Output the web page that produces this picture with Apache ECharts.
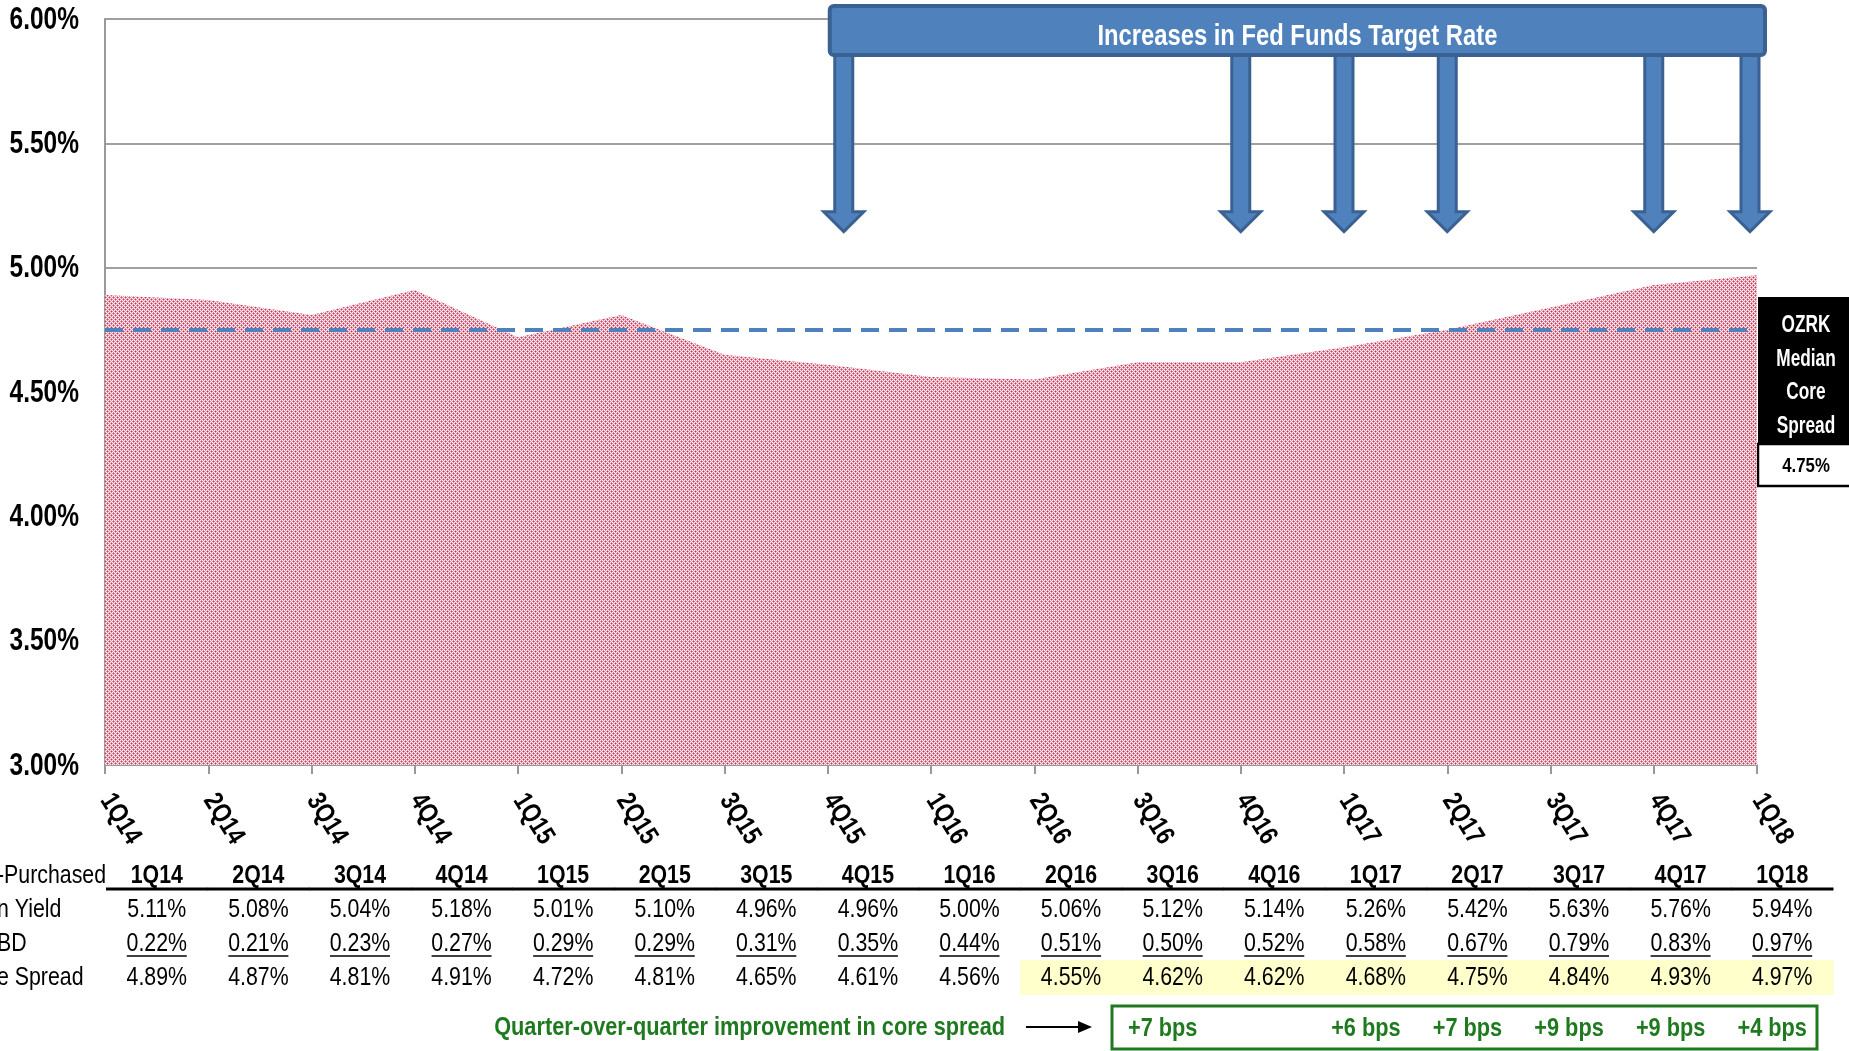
<!DOCTYPE html>
<html>
<head>
<meta charset="utf-8">
<script src="https://cdn.jsdelivr.net/npm/echarts@6/dist/echarts.min.js"></script>
<style>
html,body{margin:0;padding:0;background:#fff;}
#main{width:1849px;height:1051px;}
</style>
</head>
<body>
<div id="main"></div>
<script>
// ---------------- data ----------------
const QUARTERS = ['1Q14','2Q14','3Q14','4Q14','1Q15','2Q15','3Q15','4Q15','1Q16','2Q16','3Q16','4Q16','1Q17','2Q17','3Q17','4Q17','1Q18'];
const CORE_SPREAD = [4.89,4.87,4.81,4.91,4.72,4.81,4.65,4.61,4.56,4.55,4.62,4.62,4.68,4.75,4.84,4.93,4.97];
const LOAN_YIELD  = [5.11,5.08,5.04,5.18,5.01,5.10,4.96,4.96,5.00,5.06,5.12,5.14,5.26,5.42,5.63,5.76,5.94];
const COF_IBD     = [0.22,0.21,0.23,0.27,0.29,0.29,0.31,0.35,0.44,0.51,0.50,0.52,0.58,0.67,0.79,0.83,0.97];
const BPS_IMPROVEMENT = [null,null,null,null,null,null,null,null,null,null,7,null,6,7,9,9,4];
const MEDIAN_SPREAD = 4.75;
const Y_TICKS = [3.0, 3.5, 4.0, 4.5, 5.0, 5.5, 6.0];
const RATE_HIKES = ['4Q15','4Q16','1Q17','2Q17','4Q17','1Q18'];
const HIGHLIGHT_FROM = '2Q16';
const ROW_LABELS = ['-Purchased','n Yield','BD','e Spread'];
const TABLE_ROWS = ['header','yield','cof','spread'];
const BANNER_TEXT = 'Increases in Fed Funds Target Rate';
const MEDIAN_BOX_LINES = ['OZRK','Median','Core','Spread'];
const QOQ_TEXT = 'Quarter-over-quarter improvement in core spread';

// ---------------- styling helpers ----------------
const FONT = "'Liberation Sans',Arial,sans-serif";
const NARROW_SCALE = 0.82;           // emulate Arial Narrow
const BLUE = '#4f81bd', BLUE_DARK = '#3a6192';
const GREEN = '#1f7a1f';
const Y_MIN = Y_TICKS[0], Y_MAX = Y_TICKS[Y_TICKS.length - 1], Y_STEP = Y_TICKS[1] - Y_TICKS[0];

function ntext(x, y, text, font, fill, align, vAlign, rotation, sx){
  return { type: 'text', x: x, y: y, rotation: rotation || 0, scaleX: sx || NARROW_SCALE,
    style: { x: 0, y: 0, text: text, font: font, fill: fill || '#000',
      textAlign: align || 'center', textVerticalAlign: vAlign || 'middle' } };
}

function makeDotPattern(){
  const c = document.createElement('canvas');
  c.width = 4; c.height = 4;
  const ctx = c.getContext('2d');
  const img = ctx.createImageData(4,4);
  const dark = [200,55,85], mid = [228,145,165], light = [251,238,241];
  const darkSet = ['1,1','3,3'];
  const midSet = ['0,1','2,1','1,0','1,2','2,3','0,3','3,2','3,0'];
  for (let y=0;y<4;y++) for (let x=0;x<4;x++){
    const k = x+','+y;
    const col = darkSet.includes(k) ? dark : (midSet.includes(k) ? mid : light);
    const o = (y*4+x)*4;
    img.data[o]=col[0]; img.data[o+1]=col[1]; img.data[o+2]=col[2]; img.data[o+3]=255;
  }
  ctx.putImageData(img,0,0);
  return c;
}

const chart = echarts.init(document.getElementById('main'));

const hikeIdx = RATE_HIKES.map(q => QUARTERS.indexOf(q));
const hlIdx = QUARTERS.indexOf(HIGHLIGHT_FROM);
function fmtPct(v){ return v.toFixed(2) + '%'; }

const tableData = [];
QUARTERS.forEach((q,i) => { for (let r=0;r<TABLE_ROWS.length;r++) tableData.push([i,r]); });
const bpsData = [];
BPS_IMPROVEMENT.forEach((v,i) => { if (v != null) bpsData.push([i, 3, v]); });

const option = {
  animation: false,
  backgroundColor: '#fff',
  grid: [
    { left: 105, right: 92, top: 19, bottom: 286 },
    { left: 106, right: 16, top: 859, height: 136 }
  ],
  xAxis: [
    {
      type: 'category', gridIndex: 0, data: QUARTERS, boundaryGap: false,
      axisLine: { show: true, lineStyle: { color: '#999', width: 2 } },
      axisTick: { show: true, length: 9, lineStyle: { color: '#999', width: 2 }, interval: 0 },
      axisLabel: { show: false },
      splitLine: { show: false }
    },
    { type: 'category', gridIndex: 1, data: QUARTERS, boundaryGap: true, show: false }
  ],
  yAxis: [
    {
      type: 'value', gridIndex: 0, min: Y_MIN, max: Y_MAX, interval: Y_STEP,
      axisLine: { show: true, lineStyle: { color: '#999', width: 2 } },
      axisTick: { show: false },
      axisLabel: { show: false },
      splitLine: { show: true, lineStyle: { color: '#a0a0a0', width: 2 } }
    },
    { type: 'category', gridIndex: 1, data: TABLE_ROWS, inverse: true, show: false }
  ],
  series: [
    {
      type: 'line', xAxisIndex: 0, yAxisIndex: 0, data: CORE_SPREAD,
      symbol: 'none', lineStyle: { width: 0, opacity: 0 },
      areaStyle: { origin: 'start', color: { image: makeDotPattern(), repeat: 'repeat' }, opacity: 1 },
      z: 2,
      markLine: {
        silent: true, symbol: ['none','none'], label: { show: false },
        lineStyle: { color: BLUE, type: [18, 10], width: 4 },
        data: [{ yAxis: MEDIAN_SPREAD }]
      }
    },
    {
      // y-axis tick labels (narrow font)
      type: 'custom', xAxisIndex: 0, yAxisIndex: 0, clip: false, z: 4,
      data: Y_TICKS.map(v => [0, v]),
      renderItem: function(params, api){
        const p = api.coord([0, api.value(1)]);
        return ntext(p[0] - 26, p[1] + 1, fmtPct(api.value(1)), 'bold 31px ' + FONT, '#000', 'right', 'middle', 0, 0.79);
      }
    },
    {
      // x-axis category labels (rotated, narrow font)
      type: 'custom', xAxisIndex: 0, yAxisIndex: 0, clip: false, z: 4,
      data: QUARTERS.map((q, i) => [i, Y_MIN]),
      renderItem: function(params, api){
        const i = api.value(0);
        const p = api.coord([i, Y_MIN]);
        return ntext(p[0] + 1, p[1] + 31, QUARTERS[i], 'bold 27px ' + FONT, '#000', 'left', 'middle', -58 * Math.PI / 180);
      }
    },
    {
      // rate-hike arrows
      type: 'custom', xAxisIndex: 0, yAxisIndex: 0, clip: false, z: 5,
      data: hikeIdx.map(i => [i, Y_MAX]),
      renderItem: function(params, api){
        const xt = api.coord([api.value(0), Y_MAX])[0];
        const top = api.coord([0, Y_MAX])[1];
        const bl = api.coord([hikeIdx[0], Y_MAX])[0] + 2;
        const br = api.coord([hikeIdx[hikeIdx.length-1], Y_MAX])[0] + 8;
        const x = Math.min(Math.max(xt, bl + 14), br - 15);
        const y0 = top + 34;
        const yh = api.coord([0, 5.225])[1];
        const yt = api.coord([0, 5.145])[1];
        const sw = 9, hw = 20;
        return {
          type: 'polygon',
          shape: { points: [[x-sw,y0],[x+sw,y0],[x+sw,yh],[x+hw,yh],[x,yt],[x-hw,yh],[x-sw,yh]] },
          style: { fill: BLUE, stroke: BLUE_DARK, lineWidth: 3, lineJoin: 'miter' }
        };
      }
    },
    {
      // banner
      type: 'custom', xAxisIndex: 0, yAxisIndex: 0, clip: false, z: 6,
      data: [[hikeIdx[0], Y_MAX]],
      renderItem: function(params, api){
        const top = api.coord([0, Y_MAX])[1];
        const bl = api.coord([hikeIdx[0], Y_MAX])[0] + 2;
        const br = api.coord([hikeIdx[hikeIdx.length-1], Y_MAX])[0] + 8;
        const y = top - 13, h = 49;
        return {
          type: 'group',
          children: [
            { type: 'rect', shape: { x: bl, y: y, width: br - bl, height: h, r: 4 },
              style: { fill: BLUE, stroke: BLUE_DARK, lineWidth: 4 } },
            ntext((bl+br)/2, y + h/2 + 6, BANNER_TEXT, 'bold 29px ' + FONT, '#fff', 'center', 'middle')
          ]
        };
      }
    },
    {
      // data table
      type: 'custom', xAxisIndex: 1, yAxisIndex: 1, clip: false, z: 3,
      data: tableData,
      renderItem: function(params, api){
        const i = api.value(0), r = api.value(1);
        const p = api.coord([i, r]);
        const sz = api.size([1, 1]);
        const w = sz[0], h = sz[1];
        const children = [];
        let txt, bold = false;
        if (r === 0) { txt = QUARTERS[i]; bold = true; }
        else if (r === 1) txt = fmtPct(LOAN_YIELD[i]);
        else if (r === 2) txt = fmtPct(COF_IBD[i]);
        else txt = fmtPct(CORE_SPREAD[i]);
        if (r === 3 && i >= hlIdx) {
          children.push({ type: 'rect', shape: { x: p[0]-w/2, y: p[1]-h/2-1, width: w+0.5, height: h+1 },
            style: { fill: '#ffffcc' } });
        }
        children.push(ntext(p[0], p[1], txt, (bold ? 'bold ' : '') + '26px ' + FONT, '#000', 'center', 'middle'));
        if (r === 0) {
          children.push({ type: 'line', shape: { x1: p[0]-w/2, y1: p[1]+13, x2: p[0]+w/2+0.5, y2: p[1]+13 },
            style: { stroke: '#000', lineWidth: 3 } });
        }
        if (r === 2) {
          children.push({ type: 'line', shape: { x1: p[0]-30, y1: p[1]+12, x2: p[0]+30, y2: p[1]+12 },
            style: { stroke: '#000', lineWidth: 1.5 } });
        }
        return { type: 'group', children: children };
      }
    },
    {
      // quarter-over-quarter improvements
      type: 'custom', xAxisIndex: 1, yAxisIndex: 1, clip: false, z: 3,
      data: bpsData,
      renderItem: function(params, api){
        const p = api.coord([api.value(0), api.value(1)]);
        return ntext(p[0]-10, p[1]+51, '+' + api.value(2) + ' bps', 'bold 26.5px ' + FONT, GREEN, 'center', 'middle');
      }
    }
  ],
  graphic: [
    ...ROW_LABELS.map((t, r) => ntext(-3, 876 + r*34, t, '26px ' + FONT, '#000', 'left', 'middle')),
    { type: 'rect', shape: { x: 1758, y: 297, width: 95, height: 147 }, style: { fill: '#000' } },
    ...MEDIAN_BOX_LINES.map((t, k) => ntext(1806, 326 + k*33.5, t, 'bold 23px ' + FONT, '#fff', 'center', 'middle', 0, 0.75)),
    { type: 'rect', shape: { x: 1758, y: 444, width: 95, height: 42 }, style: { fill: '#fff', stroke: '#000', lineWidth: 2.5 } },
    ntext(1806, 466, fmtPct(MEDIAN_SPREAD), 'bold 21px ' + FONT, '#000', 'center', 'middle', 0, 0.8),
    ntext(1005, 1028, QOQ_TEXT, 'bold 26.5px ' + FONT, GREEN, 'right', 'middle'),
    { type: 'line', shape: { x1: 1026, y1: 1027, x2: 1080, y2: 1027 }, style: { stroke: '#000', lineWidth: 2 } },
    { type: 'polygon', shape: { points: [[1078,1021],[1092,1027],[1078,1033]] }, style: { fill: '#000' } },
    { type: 'rect', shape: { x: 1112, y: 1006, width: 705, height: 43 }, style: { fill: 'none', stroke: GREEN, lineWidth: 3 } }
  ]
};
chart.setOption(option);
</script>
</body>
</html>
